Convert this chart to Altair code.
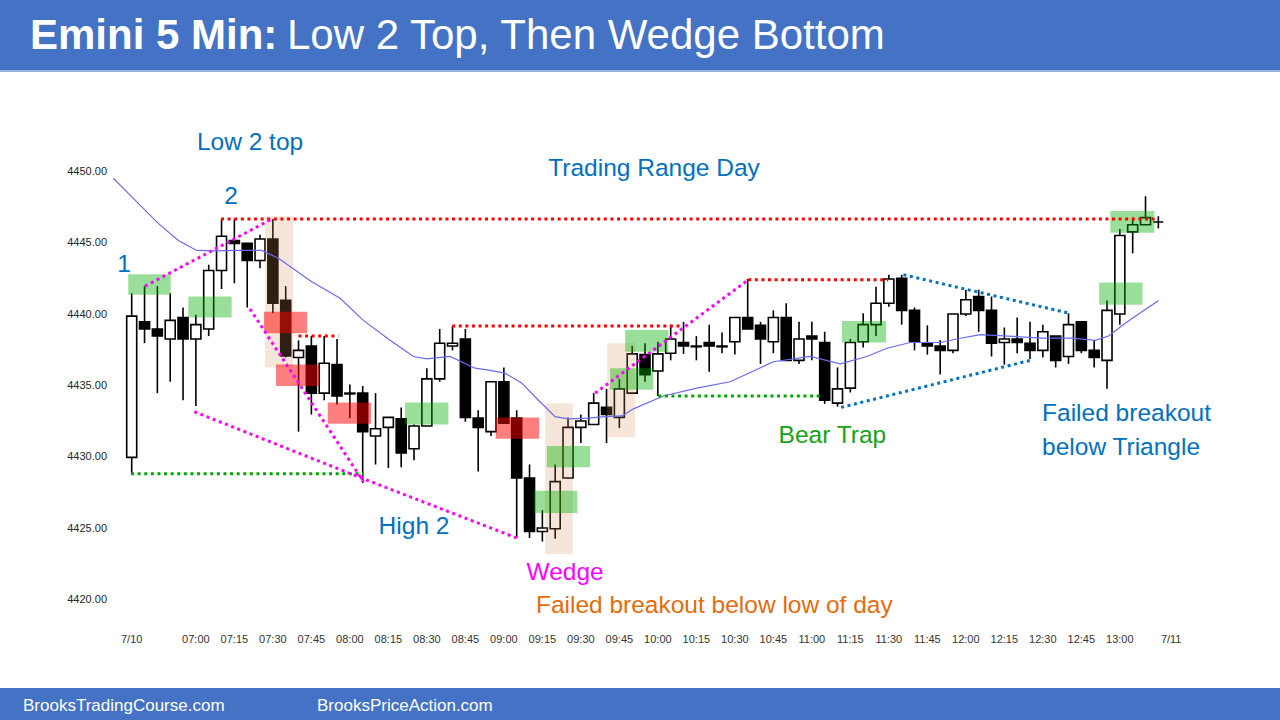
import altair as alt
import pandas as pd

# ---------------- data ----------------
# 5-minute bars, 7/10 session (bar 0 = first bar of the day, last bar = 7/11 open)
opens = [4430.0, 4439.5, 4439.0, 4438.3, 4439.8, 4438.3, 4439.0, 4443.1, 4445.2, 4445.0,
         4443.8, 4445.3, 4441.0, 4437.0, 4437.8, 4434.5, 4436.5, 4434.5, 4434.5, 4431.5,
         4432.1, 4432.7, 4430.6, 4432.2, 4435.5, 4437.8, 4438.3, 4432.75, 4431.8, 4435.3,
         4432.75, 4428.55, 4424.8, 4425.0, 4428.55, 4432.1, 4432.3, 4433.5, 4432.8, 4434.5,
         4437.2, 4436.05, 4437.3, 4438.05, 4437.8, 4438.05, 4437.8, 4438.1, 4439.8, 4439.25,
         4438.1, 4439.8, 4436.8, 4438.5, 4438.05, 4433.8, 4434.85, 4438.1, 4439.3, 4440.8,
         4442.55, 4440.3, 4438.0, 4437.8, 4437.5, 4440.05, 4441.27, 4440.3, 4438.05, 4438.3,
         4438.0, 4437.5, 4438.5, 4437.07, 4439.5, 4437.5, 4436.8, 4440.05, 4445.8, 4446.3,
         4446.5]
highs = [4441.5, 4442.0, 4442.0, 4441.5, 4440.5, 4440.0, 4443.5, 4446.7, 4446.7, 4445.0,
         4445.6, 4446.7, 4442.0, 4438.2, 4438.5, 4438.5, 4438.3, 4435.1, 4435.0, 4434.5,
         4432.8, 4433.5, 4432.3, 4436.25, 4439.0, 4439.2, 4439.0, 4433.3, 4435.3, 4436.3,
         4433.3, 4429.5, 4426.3, 4429.5, 4432.8, 4433.0, 4434.5, 4434.8, 4435.5, 4437.8,
         4438.0, 4438.1, 4439.3, 4439.5, 4438.5, 4439.3, 4438.75, 4439.8, 4442.5, 4439.5,
         4440.3, 4440.8, 4439.5, 4439.5, 4438.8, 4436.3, 4438.3, 4440.1, 4441.95, 4442.8,
         4442.8, 4440.5, 4439.25, 4438.2, 4440.05, 4441.75, 4441.75, 4441.27, 4439.1, 4439.8,
         4439.5, 4439.3, 4438.5, 4440.1, 4439.5, 4438.2, 4441.0, 4446.0, 4446.8, 4448.3,
         4446.9]
lows = [4428.8, 4438.0, 4434.5, 4435.3, 4434.0, 4433.6, 4438.5, 4441.8, 4442.2, 4440.5,
        4443.25, 4440.1, 4437.0, 4431.8, 4433.0, 4434.0, 4433.7, 4432.75, 4428.2, 4429.5,
        4429.25, 4429.3, 4429.8, 4432.2, 4435.3, 4437.5, 4432.5, 4429.0, 4431.5, 4432.5,
        4424.35, 4424.35, 4424.1, 4424.3, 4428.5, 4431.0, 4432.3, 4431.0, 4432.05, 4434.5,
        4435.3, 4434.3, 4436.8, 4437.25, 4436.8, 4436.0, 4437.3, 4437.2, 4439.0, 4436.55,
        4437.3, 4436.8, 4436.55, 4436.8, 4433.75, 4433.55, 4434.55, 4437.7, 4438.5, 4440.55,
        4439.3, 4437.5, 4437.2, 4435.8, 4437.3, 4439.9, 4438.8, 4437.07, 4436.5, 4437.3,
        4436.9, 4437.0, 4436.3, 4436.55, 4437.3, 4436.3, 4434.8, 4439.3, 4444.3, 4446.3,
        4446.05]
closes = [4439.9, 4439.0, 4438.5, 4439.6, 4438.3, 4439.3, 4443.1, 4445.5, 4445.0, 4443.8,
          4445.3, 4440.8, 4437.1, 4437.5, 4434.5, 4436.6, 4434.3, 4434.45, 4431.8, 4432.0,
          4432.8, 4430.3, 4432.2, 4435.5, 4438.0, 4438.0, 4432.8, 4432.1, 4435.3, 4432.4,
          4428.55, 4424.8, 4425.05, 4428.3, 4432.1, 4432.55, 4433.8, 4433.0, 4434.8, 4437.25,
          4435.8, 4437.25, 4438.3, 4437.8, 4437.75, 4437.8, 4437.75, 4439.8, 4439.0, 4438.3,
          4439.8, 4436.8, 4438.3, 4438.3, 4434.0, 4434.8, 4438.05, 4439.3, 4440.8, 4442.5,
          4440.3, 4438.1, 4437.8, 4437.5, 4440.05, 4441.05, 4440.3, 4438.0, 4438.3, 4438.05,
          4437.5, 4438.8, 4436.8, 4439.3, 4437.5, 4437.0, 4440.3, 4445.55, 4446.3, 4446.8,
          4446.5]

# 20-bar EMA as traced (bar position, price)
ema_pos = [-1.43, 0.51, 2.07, 3.63, 5.07, 6.49, 8.31, 10.13, 11.43, 14.03, 16.24, 18.05,
           20.13, 21.95, 23.0, 24.81, 26.76, 27.93, 29.1, 30.4, 31.69, 32.99, 34.03, 35.59,
           36.89, 38.19, 39.1, 41.43, 44.04, 46.63, 50.0, 52.87, 55.21, 57.29, 58.85, 60.67,
           63.01, 64.57, 66.13, 68.32, 70.93, 73.27, 75.08, 76.12, 77.42, 78.72, 80.02]
ema_val = [4449.56, 4447.8, 4446.4, 4445.2, 4444.5, 4444.47, 4444.5, 4444.5, 4443.95, 4442.3,
           4441.15, 4439.6, 4438.2, 4437.07, 4436.9, 4437.07, 4436.25, 4436.1, 4435.9, 4435.2,
           4434.0, 4432.85, 4432.7, 4432.75, 4432.85, 4432.9, 4433.4, 4434.3, 4434.85, 4435.3,
           4436.7, 4437.07, 4436.55, 4437.07, 4437.65, 4438.05, 4438.05, 4438.35, 4438.6,
           4438.5, 4438.35, 4438.35, 4438.2, 4438.5, 4439.4, 4440.2, 4441.0]

# axis ticks
price_ticks = [4420, 4425, 4430, 4435, 4440, 4445, 4450]
time_tick_pos = [0, 5, 8, 11, 14, 17, 20, 23, 26, 29, 32, 35, 38, 41, 44, 47, 50, 53, 56,
                 59, 62, 65, 68, 71, 74, 77, 81]
time_tick_lbl = ["7/10", "07:00", "07:15", "07:30", "07:45", "08:00", "08:15", "08:30",
                 "08:45", "09:00", "09:15", "09:30", "09:45", "10:00", "10:15", "10:30",
                 "10:45", "11:00", "11:15", "11:30", "11:45", "12:00", "12:15", "12:30",
                 "12:45", "13:00", "7/11"]

# highlight boxes: (bar from, bar to, price low, price high)
green_boxes = [(-0.27, 3.04, 4441.4, 4442.83), (4.41, 7.79, 4439.8, 4441.27),
               (21.3, 24.68, 4432.3, 4433.85), (31.36, 34.73, 4426.1, 4427.65),
               (32.35, 35.72, 4429.3, 4430.8), (37.28, 40.65, 4434.73, 4436.25),
               (38.45, 41.82, 4437.4, 4438.93), (55.34, 58.79, 4438.05, 4439.56),
               (75.39, 78.77, 4440.7, 4442.25), (76.26, 79.69, 4445.75, 4447.27)]
red_boxes = [(10.31, 13.67, 4438.7, 4440.2), (11.25, 14.6, 4435.0, 4436.5),
             (15.28, 18.65, 4432.35, 4433.85), (28.37, 31.75, 4431.3, 4432.8)]
tan_boxes = [(10.39, 12.57, 4436.3, 4446.9), (32.21, 34.37, 4423.2, 4433.8),
             (37.05, 39.23, 4431.4, 4438.0)]

# dotted reference lines: list of (bar, price) points
red_lines = [[(6.96, 4446.7), (79.7, 4446.7)], [(12.99, 4438.5), (16.1, 4438.5)],
             [(24.97, 4439.2), (42.97, 4439.2)], [(48.04, 4442.45), (58.95, 4442.45)]]
green_lines = [[(-0.05, 4428.85), (18.03, 4428.85)], [(41.03, 4434.3), (53.89, 4434.3)]]
magenta_lines = [[(1.04, 4442.0), (10.91, 4446.7)], [(9.22, 4440.4), (18.05, 4428.3)],
                 [(4.88, 4433.2), (18.05, 4428.5), (30.0, 4424.35)],
                 [(36.11, 4434.5), (48.06, 4442.45)]]
blue_lines = [[(60.14, 4442.8), (73.06, 4440.1)], [(55.28, 4433.5), (70.02, 4436.8)]]

# annotations: (text, bar, price, kind)
notes_center = [("Low 2 top", 9.22, 4452.0, "blue"), ("1", -0.6, 4443.5, "blue"),
                ("2", 7.74, 4448.25, "blue"), ("Trading Range Day", 40.7, 4450.2, "blue"),
                ("High 2", 22.0, 4425.1, "blue"), ("Wedge", 33.77, 4421.9, "magenta"),
                ("Failed breakout below low of day", 45.4, 4419.6, "orange"),
                ("Bear Trap", 54.6, 4431.5, "green")]
notes_left = [("Failed breakout", 70.94, 4433.05, "blue"),
              ("below Triangle", 70.94, 4430.67, "blue")]

# ---------------- build tables ----------------
n = len(opens)
candles = pd.DataFrame({"i": list(range(n)), "o": opens, "h": highs, "l": lows, "c": closes})
ema = pd.DataFrame({"i": ema_pos, "v": ema_val})
yticks = pd.DataFrame({"p": price_ticks})
xticks = pd.DataFrame({"pos": time_tick_pos, "lbl": time_tick_lbl})


def box_frame(boxes, kind):
    return [{"x0": b[0], "x1": b[1], "y0": b[2], "y1": b[3], "kind": kind} for b in boxes]


boxes = pd.DataFrame(box_frame(tan_boxes, "tan") + box_frame(green_boxes, "green")
                     + box_frame(red_boxes, "red"))

rows = []
for kind, group in [("red", red_lines), ("green", green_lines),
                    ("magenta", magenta_lines), ("blue", blue_lines)]:
    for j, pts in enumerate(group):
        for k, (px, py) in enumerate(pts):
            rows.append({"id": f"{kind}{j}", "kind": kind, "seq": k, "x": px, "y": py})
lines = pd.DataFrame(rows)

nc = pd.DataFrame([{"t": t, "x": x, "y": y, "kind": k} for t, x, y, k in notes_center])
nl = pd.DataFrame([{"t": t, "x": x, "y": y, "kind": k} for t, x, y, k in notes_left])
one = pd.DataFrame({"a": [0]})

# ---------------- scales ----------------
W, H = 1280, 720
xs = alt.Scale(domain=[-10.263, 89.48], nice=False, zero=False, padding=0)
ys = alt.Scale(domain=[4411.59, 4462.056], nice=False, zero=False, padding=0)
FONT = "Liberation Sans"
NOAX = None

wicks = alt.Chart(candles).mark_rule(color="black", strokeWidth=1.6).encode(
    x=alt.X("i:Q", scale=xs, axis=NOAX),
    y=alt.Y("l:Q", scale=ys, axis=NOAX),
    y2="h:Q",
)

bodies = alt.Chart(candles).mark_bar(size=10, stroke="black", strokeWidth=1.6).encode(
    x=alt.X("i:Q", scale=xs, axis=NOAX),
    y=alt.Y("o:Q", scale=ys, axis=NOAX),
    y2="c:Q",
    fill=alt.condition("datum.c >= datum.o", alt.value("white"), alt.value("black")),
)

box_layer = alt.Chart(boxes).mark_rect().encode(
    x=alt.X("x0:Q", scale=xs, axis=NOAX), x2="x1:Q",
    y=alt.Y("y0:Q", scale=ys, axis=NOAX), y2="y1:Q",
    fill=alt.Fill("kind:N", legend=None, scale=alt.Scale(
        domain=["green", "red", "tan"],
        range=["rgba(0,176,0,0.40)", "rgba(255,0,0,0.50)", "rgba(210,140,80,0.22)"])),
)

ema_layer = alt.Chart(ema).mark_line(color="#6A6AF2", strokeWidth=1.2).encode(
    x=alt.X("i:Q", scale=xs, axis=NOAX),
    y=alt.Y("v:Q", scale=ys, axis=NOAX),
    order="i:Q",
)

line_layer = alt.Chart(lines).mark_line(strokeWidth=3, strokeDash=[3, 3.6]).encode(
    x=alt.X("x:Q", scale=xs, axis=NOAX),
    y=alt.Y("y:Q", scale=ys, axis=NOAX),
    detail="id:N",
    order="seq:Q",
    color=alt.Color("kind:N", legend=None, scale=alt.Scale(
        domain=["red", "green", "magenta", "blue"],
        range=["#FF0000", "#00A600", "#FF00FF", "#0070C0"])),
)

text_scale = alt.Scale(domain=["blue", "magenta", "orange", "green"],
                       range=["#0070C0", "#FF00FF", "#E46C0A", "#17A317"])

notes_c = alt.Chart(nc).mark_text(font=FONT, fontSize=24.5, align="center",
                                  baseline="middle").encode(
    x=alt.X("x:Q", scale=xs, axis=NOAX), y=alt.Y("y:Q", scale=ys, axis=NOAX),
    text="t:N", color=alt.Color("kind:N", legend=None, scale=text_scale))

notes_l = alt.Chart(nl).mark_text(font=FONT, fontSize=24.5, align="left",
                                  baseline="middle").encode(
    x=alt.X("x:Q", scale=xs, axis=NOAX), y=alt.Y("y:Q", scale=ys, axis=NOAX),
    text="t:N", color=alt.Color("kind:N", legend=None, scale=text_scale))

# axis labels (price on the left, time along the bottom)
ylabels = alt.Chart(yticks).mark_text(font=FONT, fontSize=11, color="#262626", align="right",
                                      baseline="middle").encode(
    x=alt.value(107), y=alt.Y("p:Q", scale=ys, axis=NOAX),
    text=alt.Text("p:Q", format=".2f"))
xlabels = alt.Chart(xticks).mark_text(font=FONT, fontSize=11, color="#333333", align="center",
                                      baseline="middle").encode(
    x=alt.X("pos:Q", scale=xs, axis=NOAX), y=alt.value(640), text="lbl:N")

# header / footer bands
header = alt.Chart(one).mark_rect(color="#4472C4").encode(
    x=alt.value(0), x2=alt.value(W), y=alt.value(0), y2=alt.value(70))
header_line = alt.Chart(one).mark_rect(color="#9CB3DF").encode(
    x=alt.value(0), x2=alt.value(W), y=alt.value(70), y2=alt.value(72))
footer = alt.Chart(one).mark_rect(color="#4472C4").encode(
    x=alt.value(0), x2=alt.value(W), y=alt.value(688), y2=alt.value(H))

title_bold = alt.Chart(one).mark_text(text="Emini 5 Min:", font=FONT, fontSize=42,
                                      fontWeight="bold", color="white", align="left",
                                      baseline="alphabetic").encode(
    x=alt.value(30), y=alt.value(49))
title_rest = alt.Chart(one).mark_text(text="Low 2 Top, Then Wedge Bottom", font=FONT,
                                      fontSize=42, color="white", align="left",
                                      baseline="alphabetic").encode(
    x=alt.value(287), y=alt.value(49))
foot1 = alt.Chart(one).mark_text(text="BrooksTradingCourse.com", font=FONT, fontSize=17,
                                 color="white", align="left", baseline="middle").encode(
    x=alt.value(23), y=alt.value(706))
foot2 = alt.Chart(one).mark_text(text="BrooksPriceAction.com", font=FONT, fontSize=17,
                                 color="white", align="left", baseline="middle").encode(
    x=alt.value(317), y=alt.value(706))

chart = alt.layer(
    wicks, bodies, box_layer, ema_layer, line_layer, notes_c, notes_l, ylabels, xlabels,
    header, header_line, footer, title_bold, title_rest, foot1, foot2,
).resolve_scale(color="independent", fill="independent").properties(
    width=W, height=H, padding=0, autosize=alt.AutoSizeParams(type="none"),
    background="white",
).configure_view(strokeWidth=0)

chart.save("out.html", embed_options={"renderer": "svg", "actions": False})
